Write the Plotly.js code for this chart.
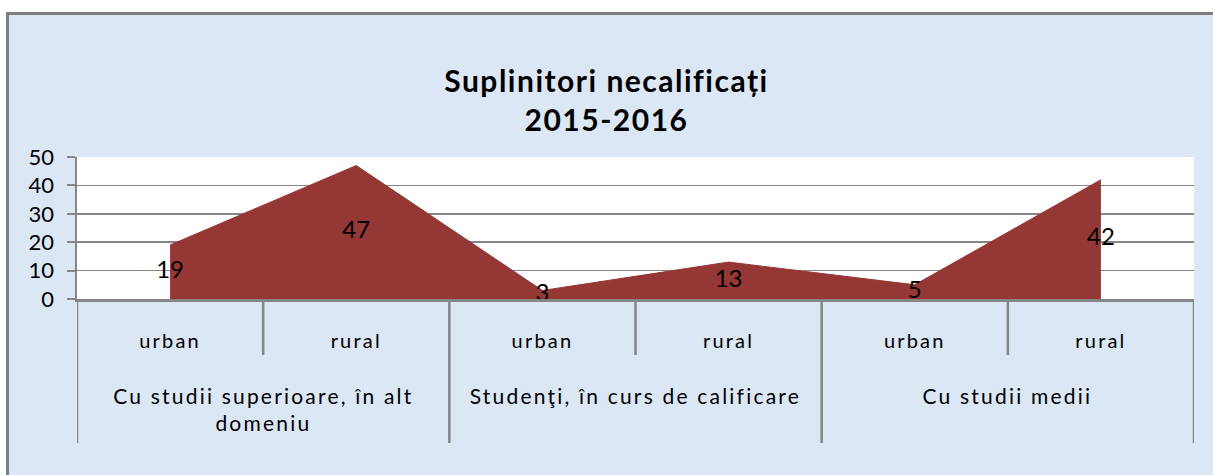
<!DOCTYPE html>
<html>
<head>
<meta charset="utf-8">
<script src="https://cdn.plot.ly/plotly-3.0.1.min.js"></script>
<style>
  html, body { margin: 0; padding: 0; background: #ffffff; overflow: hidden; width: 100%; height: 100%; }
  #bg { position: absolute; left: 9px; top: 15px; right: 0; bottom: 0; background: #dbe7f5; }
  #topline { position: absolute; left: 6px; top: 12px; right: 0; height: 3px; background: #7f7f7f; }
  #leftline { position: absolute; left: 6px; top: 12px; width: 3px; bottom: 0; background: #7f7f7f; }
  #chart { position: absolute; left: 0; top: 0; width: 1213px; height: 475px; }
  #chart .gtitle { letter-spacing: 1.5px; }
  #chart .xtick text { letter-spacing: 2.2px; }
  #chart .annotation-text { letter-spacing: 2.2px; }
</style>
</head>
<body>
<div id="bg"></div>
<div id="topline"></div>
<div id="leftline"></div>
<div id="chart"></div>
<script>
// ---- data ----
const groupNames = ['Cu studii superioare, în alt<br>domeniu', 'Studenţi, în curs de calificare', 'Cu studii medii'];
const subNames = ['urban', 'rural'];
const values = [19, 47, 3, 13, 5, 42];
const titleText = 'Suplinitori necalificați<br>2015-2016';
const yTicks = [0, 10, 20, 30, 40, 50];

// ---- build category structure ----
const xGroup = [], xSub = [];
groupNames.forEach(g => subNames.forEach(s => { xGroup.push(g); xSub.push(s); }));
const n = values.length;
const xIdx = values.map((v, i) => i);

const FONT = 'Lato, "Noto Sans", sans-serif';
const GRAY = '#868686';
const FILL = '#953735';

const area = {
  type: 'scatter', mode: 'lines',
  x: xIdx, y: values,
  fill: 'tozeroy', fillcolor: FILL,
  line: { color: FILL, width: 1 },
  hoverinfo: 'skip', showlegend: false
};
const labels = {
  type: 'scatter', mode: 'text',
  x: xIdx, y: values.map(v => v / 2),
  text: values.map(String), textposition: 'middle center',
  textfont: { family: FONT, size: 24, color: '#000' },
  hoverinfo: 'skip', showlegend: false, cliponaxis: false
};

// axis decorations: sub-category ticks and group dividers
const PH = 142; // plot height px (for paper conversion)
const shapes = [];
const annotations = [];
let start = 0;
for (let i = 1; i <= n; i++) {
  if (i === n || xGroup[i] !== xGroup[i - 1]) {
    shapes.push({ type: 'line', xref: 'x', yref: 'paper', x0: start - 0.5, x1: start - 0.5,
      y0: 0, y1: -144 / PH, line: { color: GRAY, width: 2.5 }, layer: 'above' });
    annotations.push({ xref: 'x', yref: 'paper', x: (start + i - 1) / 2, y: -82 / PH,
      yanchor: 'top', xanchor: 'center', showarrow: false, text: xGroup[start],
      font: { family: FONT, size: 21, color: '#000' } });
    start = i;
  } else {
    shapes.push({ type: 'line', xref: 'x', yref: 'paper', x0: i - 0.5, x1: i - 0.5,
      y0: 0, y1: -56 / PH, line: { color: GRAY, width: 2.5 }, layer: 'above' });
  }
}
shapes.push({ type: 'line', xref: 'x', yref: 'paper', x0: n - 0.5, x1: n - 0.5,
  y0: 0, y1: -144 / PH, line: { color: GRAY, width: 2.5 }, layer: 'above' });

const layout = {
  width: 1213, height: 475,
  margin: { l: 77, r: 19, t: 157, b: 176 },
  paper_bgcolor: 'rgba(0,0,0,0)',
  plot_bgcolor: '#ffffff',
  font: { family: FONT, color: '#000' },
  title: {
    text: titleText,
    font: { family: FONT, size: 30, weight: 'bold', color: '#000' },
    x: 0.5, xanchor: 'center', xref: 'container',
    y: 1 - 92 / 475, yref: 'container', yanchor: 'middle'
  },
  xaxis: {
    range: [-0.5, n - 0.5], tickvals: xIdx, ticktext: xSub,
    showline: true, linecolor: GRAY, linewidth: 2.5,
    ticks: '', showgrid: false, zeroline: false,
    tickfont: { family: FONT, size: 20, color: '#000' },
    ticklabelstandoff: 22,
    fixedrange: true
  },
  yaxis: {
    range: [0, 50], tickvals: yTicks,
    showline: true, linecolor: GRAY, linewidth: 2.5,
    ticks: 'outside', ticklen: 8, tickcolor: GRAY, tickwidth: 2,
    showgrid: true, gridcolor: GRAY, gridwidth: 1.5,
    zeroline: false,
    tickfont: { family: FONT, size: 22, color: '#000' },
    ticklabelstandoff: 8,
    fixedrange: true
  },
  shapes: shapes,
  annotations: annotations
};

Plotly.newPlot('chart', [area, labels], layout, { displayModeBar: false, staticPlot: true });
</script>
</body>
</html>
